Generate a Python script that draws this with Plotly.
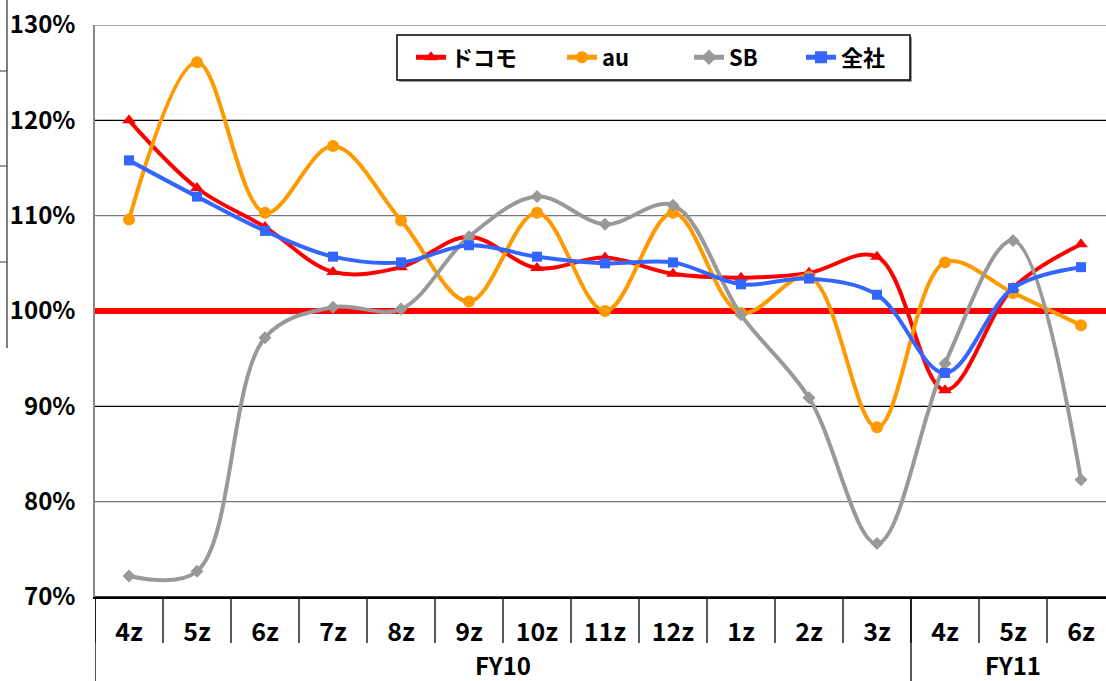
import plotly.graph_objects as go

months = ["4z", "5z", "6z", "7z", "8z", "9z", "10z", "11z", "12z", "1z", "2z", "3z", "4z", "5z", "6z"]
fiscal_years = ["FY10", "FY11"]
fy_counts = [12, 3]

docomo = [120.0, 112.9, 108.8, 104.1, 104.6, 107.8, 104.5, 105.6, 103.9, 103.5, 104.0, 105.7, 91.7, 102.4, 107.0]
au = [109.6, 126.1, 110.3, 117.3, 109.5, 101.0, 110.3, 100.0, 110.3, 99.8, 103.6, 87.8, 105.1, 101.9, 98.5]
sb = [72.2, 72.7, 97.2, 100.4, 100.2, 107.8, 112.0, 109.1, 111.1, 99.6, 90.9, 75.6, 94.5, 107.4, 82.3]
zensha = [115.8, 112.0, 108.4, 105.7, 105.1, 106.9, 105.7, 105.0, 105.1, 102.8, 103.4, 101.7, 93.5, 102.4, 104.6]

series_names = ["ドコモ", "au", "SB", "全社"]
series_values = [docomo, au, sb, zensha]
series_colors = ["#FF0000", "#FF9900", "#999999", "#3366FF"]
series_symbols = ["triangle-up", "circle", "diamond", "square"]
series_sizes = [12, 12, 10, 10]

y_ticks = [70, 80, 90, 100, 110, 120, 130]
y_tick_labels = ["70%", "80%", "90%", "100%", "110%", "120%", "130%"]

W, H = 1106, 681
ML, MR, MT, MB = 95, 0, 25, 84
plot_h = H - MT - MB
cat_px = 68.0
plot_w = W - ML - MR
x_idx = list(range(len(months)))

FONT = "Noto Sans CJK JP"

def px_x(px):
    return (px - ML) / plot_w

def px_y(py):
    return (H - MB - py) / plot_h

legend_ids = ["legend", "legend2", "legend3", "legend4"]
legend_text_x = [453, 604, 731, 843]

fig = go.Figure()
for name, vals, col, sym, sz, lid in zip(series_names, series_values, series_colors,
                                         series_symbols, series_sizes, legend_ids):
    fig.add_trace(go.Scatter(
        x=x_idx, y=vals, name=name, mode="lines+markers", legend=lid,
        line=dict(color=col, width=4, shape="spline", smoothing=1.0),
        marker=dict(symbol=sym, size=sz, color=col),
    ))

shapes = []
# gridlines
grid_colors = {70: "#000000", 80: "#777777", 90: "#000000", 110: "#777777", 120: "#000000", 130: "#888888"}
for v in y_ticks:
    if v == 100:
        continue
    shapes.append(dict(type="line", xref="paper", yref="y", x0=0, x1=1, y0=v, y1=v,
                       line=dict(color=grid_colors[v], width=1.5 if v in (70, 130) else 1.2), layer="below"))
# 100% baseline
shapes.append(dict(type="line", xref="paper", yref="y", x0=0, x1=1, y0=100, y1=100,
                   line=dict(color="#FF0000", width=6), layer="below"))
# month separators below axis
sep_len = 46 / plot_h
for i in range(len(months) + 1):
    shapes.append(dict(type="line", xref="x", yref="paper", x0=i - 0.5, x1=i - 0.5, y0=0, y1=-sep_len,
                       line=dict(color="#000000", width=1.3)))
# fiscal year dividers to bottom
bottom = -MB / plot_h
pos = -0.5
fy_centers = []
for cnt in fy_counts:
    shapes.append(dict(type="line", xref="x", yref="paper", x0=pos, x1=pos, y0=0, y1=bottom,
                       line=dict(color="#000000", width=1.3)))
    fy_centers.append(pos + cnt / 2)
    pos += cnt
# artifact lines at left edge
shapes.append(dict(type="line", xref="paper", yref="paper", x0=px_x(7), x1=px_x(7),
                   y0=px_y(0), y1=px_y(348), line=dict(color="#555555", width=1.5)))
for yy in [71, 166, 262]:
    shapes.append(dict(type="line", xref="paper", yref="paper", x0=px_x(0), x1=px_x(7),
                       y0=px_y(yy), y1=px_y(yy), line=dict(color="#555555", width=1.2)))

# legend box with shadow
lx0, lx1, ly0, ly1 = 397, 910, 35, 80
shapes.append(dict(type="rect", xref="paper", yref="paper",
                   x0=px_x(lx0 + 2), x1=px_x(lx1 + 2), y0=px_y(ly1 + 2), y1=px_y(ly0 + 2),
                   fillcolor="#999999", line=dict(width=0), layer="above"))
shapes.append(dict(type="rect", xref="paper", yref="paper",
                   x0=px_x(lx0), x1=px_x(lx1), y0=px_y(ly1), y1=px_y(ly0),
                   fillcolor="white", line=dict(color="#000000", width=1.5), layer="above"))

annotations = []
fy_centers[-1] = 13
for lab, cx in zip(fiscal_years, fy_centers):
    annotations.append(dict(text=lab, x=cx, xref="x", y=px_y(664), yref="paper",
                            showarrow=False, yanchor="middle", xanchor="center",
                            font=dict(family=FONT, size=24, color="#000000", weight="bold")))

legend_layouts = {}
for lid, tx in zip(legend_ids, legend_text_x):
    legend_layouts[lid] = dict(x=px_x(tx - 42), y=px_y((ly0 + ly1) / 2), xanchor="left", yanchor="middle",
                               bgcolor="rgba(0,0,0,0)", borderwidth=0, orientation="h",
                               font=dict(family=FONT, size=22, color="#000000", weight="bold"),
                               itemsizing="constant")

fig.update_layout(
    width=W, height=H,
    margin=dict(l=ML, r=MR, t=MT, b=MB, pad=0, autoexpand=False),
    paper_bgcolor="white", plot_bgcolor="white",
    showlegend=True,
    xaxis=dict(type="linear", range=[-0.5, -0.5 + plot_w / cat_px], automargin=False,
               tickmode="array", tickvals=x_idx, ticktext=months,
               showgrid=False, zeroline=False, showline=True, linecolor="#000000", linewidth=1.5,
               ticks="", ticklabelstandoff=12,
               tickfont=dict(family=FONT, size=25, color="#000000", weight="bold")),
    yaxis=dict(range=[70, 130], tickmode="array", tickvals=y_ticks, ticktext=y_tick_labels,
               automargin=False,
               showgrid=False, zeroline=False, showline=True, linecolor="#888888", linewidth=1.5,
               ticks="", ticklabelstandoff=13,
               tickfont=dict(family=FONT, size=24, color="#000000", weight="bold")),
    shapes=shapes, annotations=annotations,
    **legend_layouts,
)

fig.write_html("out.html", config={"displayModeBar": False},
               post_script="document.body.style.margin='0';document.body.style.overflow='hidden';")
